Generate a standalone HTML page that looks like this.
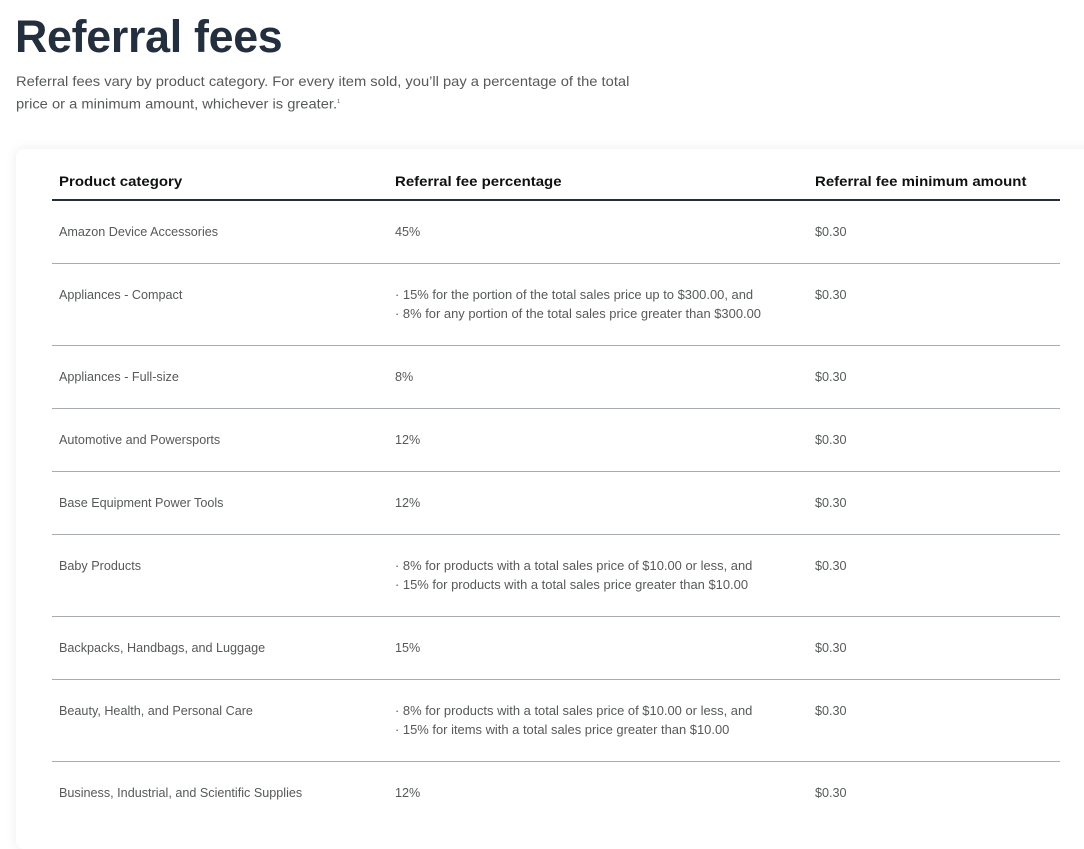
<!DOCTYPE html>
<html><head><style>
body{margin:0;width:1084px;height:808px;overflow:hidden;background:#fff;font-family:"Liberation Sans",sans-serif;position:relative}
h1{position:absolute;left:15px;top:11px;margin:0;font-size:45px;font-weight:bold;color:#232f3e;letter-spacing:-0.3px;transform:scaleX(0.995);transform-origin:left}
.sub{position:absolute;left:16px;top:71px;font-size:14px;line-height:21px;color:#565959;width:700px;transform:scaleX(1.05);transform-origin:left}
.card{position:absolute;left:16px;top:149px;width:1100px;height:700px;background:#fff;border-radius:8px;box-shadow:0 0 12px rgba(0,0,0,0.08)}
.t{position:absolute;font-size:13px;color:#565959;white-space:nowrap;line-height:19px;transform:scaleX(0.97);transform-origin:left}
.c2{transform:scaleX(0.995)}
.h{position:absolute;font-size:14px;font-weight:bold;color:#0f1111;white-space:nowrap;top:173px;transform:scaleX(1.07);transform-origin:left}
.ln{position:absolute;left:52px;width:1008px;height:1px;background:#a7acb1}
</style></head><body>
<h1>Referral fees</h1>
<div class="sub">Referral fees vary by product category. For every item sold, you’ll pay a percentage of the total<br>price or a minimum amount, whichever is greater.<sup style="font-size:5px">1</sup></div>
<div class="card"></div>
<div class="h" style="left:59px">Product category</div>
<div class="h" style="left:395px">Referral fee percentage</div>
<div class="h" style="left:815px">Referral fee minimum amount</div>
<div class="ln" style="top:199px;height:2px;background:#232f3e"></div>

<div class="t" style="left:59px;top:222px">Amazon Device Accessories</div><div class="t" style="left:395px;top:222px">45%</div><div class="t" style="left:815px;top:222px">$0.30</div>
<div class="ln" style="top:263px"></div>
<div class="t" style="left:59px;top:285px">Appliances - Compact</div><div class="t c2" style="left:395px;top:285px">· 15% for the portion of the total sales price up to $300.00, and<br>· 8% for any portion of the total sales price greater than $300.00</div><div class="t" style="left:815px;top:285px">$0.30</div>
<div class="ln" style="top:345px"></div>
<div class="t" style="left:59px;top:367px">Appliances - Full-size</div><div class="t" style="left:395px;top:367px">8%</div><div class="t" style="left:815px;top:367px">$0.30</div>
<div class="ln" style="top:408px"></div>
<div class="t" style="left:59px;top:430px">Automotive and Powersports</div><div class="t" style="left:395px;top:430px">12%</div><div class="t" style="left:815px;top:430px">$0.30</div>
<div class="ln" style="top:471px"></div>
<div class="t" style="left:59px;top:493px">Base Equipment Power Tools</div><div class="t" style="left:395px;top:493px">12%</div><div class="t" style="left:815px;top:493px">$0.30</div>
<div class="ln" style="top:534px"></div>
<div class="t" style="left:59px;top:556px">Baby Products</div><div class="t c2" style="left:395px;top:556px">· 8% for products with a total sales price of $10.00 or less, and<br>· 15% for products with a total sales price greater than $10.00</div><div class="t" style="left:815px;top:556px">$0.30</div>
<div class="ln" style="top:616px"></div>
<div class="t" style="left:59px;top:638px">Backpacks, Handbags, and Luggage</div><div class="t" style="left:395px;top:638px">15%</div><div class="t" style="left:815px;top:638px">$0.30</div>
<div class="ln" style="top:679px"></div>
<div class="t" style="left:59px;top:701px">Beauty, Health, and Personal Care</div><div class="t c2" style="left:395px;top:701px">· 8% for products with a total sales price of $10.00 or less, and<br>· 15% for items with a total sales price greater than $10.00</div><div class="t" style="left:815px;top:701px">$0.30</div>
<div class="ln" style="top:761px"></div>
<div class="t" style="left:59px;top:783px">Business, Industrial, and Scientific Supplies</div><div class="t" style="left:395px;top:783px">12%</div><div class="t" style="left:815px;top:783px">$0.30</div>
</body></html>
